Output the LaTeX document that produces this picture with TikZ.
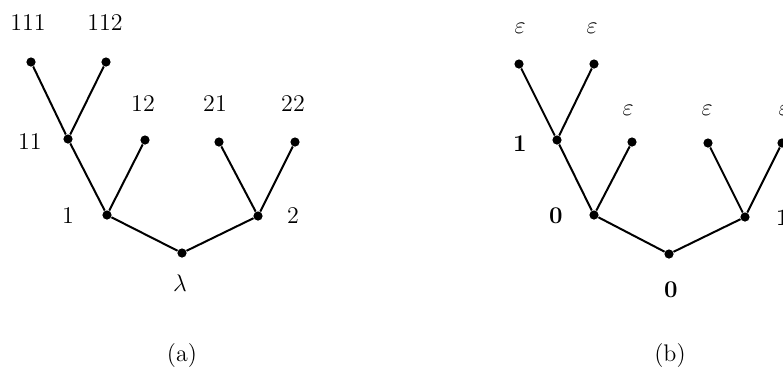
\documentclass[tikz,border=0pt]{standalone}
\begin{document}
\begin{tikzpicture}[x=0.5pt,y=-0.5pt,
  dot/.style={circle,fill=black,inner sep=0pt,minimum size=4.6pt},
  edge/.style={line width=1pt},
  lab/.style={font=\fontsize{12}{14}\selectfont,inner sep=0pt}]
\useasboundingbox (0,0) rectangle (783,388);
\clip (0,0) rectangle (783,388);
% ---------- tree (a) ----------
\node[dot] (ar)   at (182,253) {};
\node[dot] (a1)   at (107,215) {};
\node[dot] (a2)   at (258,216) {};
\node[dot] (a11)  at (68,139) {};
\node[dot] (a12)  at (145,140) {};
\node[dot] (a21)  at (219,142) {};
\node[dot] (a22)  at (295,142) {};
\node[dot] (a111) at (31,62) {};
\node[dot] (a112) at (106,62) {};
\draw[edge] (a1) -- (ar) -- (a2);
\draw[edge] (a11) -- (a1) -- (a12);
\draw[edge] (a21) -- (a2) -- (a22);
\draw[edge] (a111) -- (a11) -- (a112);
\node[lab] (la111) at (28,23) {111};
\node[lab] (la112) at (105,23) {112};
\node[lab] (la11)  at (30,142) {11};
\node[lab] (la12)  at (143,104) {12};
\node[lab] (la21)  at (215,104) {21};
\node[lab] (la22)  at (293,104) {22};
\node[lab] (la1)   at (68,216) {1};
\node[lab] (la2)   at (293,216) {2};
\node[lab] (lar)   at (180,283) {$\lambda$};
\node[lab] (capa)  at (182,355) {(a)};
% ---------- tree (b) ----------
\node[dot] (br)   at (669,254) {};
\node[dot] (b1)   at (594,215) {};
\node[dot] (b2)   at (745,217) {};
\node[dot] (b11)  at (557,140) {};
\node[dot] (b12)  at (632,142) {};
\node[dot] (b21)  at (708,143) {};
\node[dot] (b22)  at (782,143) {};
\node[dot] (b111) at (519,64) {};
\node[dot] (b112) at (594,64) {};
\draw[edge] (b1) -- (br) -- (b2);
\draw[edge] (b11) -- (b1) -- (b12);
\draw[edge] (b21) -- (b2) -- (b22);
\draw[edge] (b111) -- (b11) -- (b112);
\node[lab] (lb111) at (520,28) {$\varepsilon$};
\node[lab] (lb112) at (592,28) {$\varepsilon$};
\node[lab] (lb12)  at (628,110) {$\varepsilon$};
\node[lab] (lb21)  at (707,110) {$\varepsilon$};
\node[lab] (lb22)  at (784,110) {$\varepsilon$};
\node[lab] (lb11)  at (520,144) {\textbf{1}};
\node[lab] (lb1)   at (556,216) {\textbf{0}};
\node[lab] (lb2)   at (783,218) {\textbf{1}};
\node[lab] (lbr)   at (671,290) {\textbf{0}};
\node[lab] (capb)  at (670,355) {(b)};
\end{tikzpicture}
\end{document}
